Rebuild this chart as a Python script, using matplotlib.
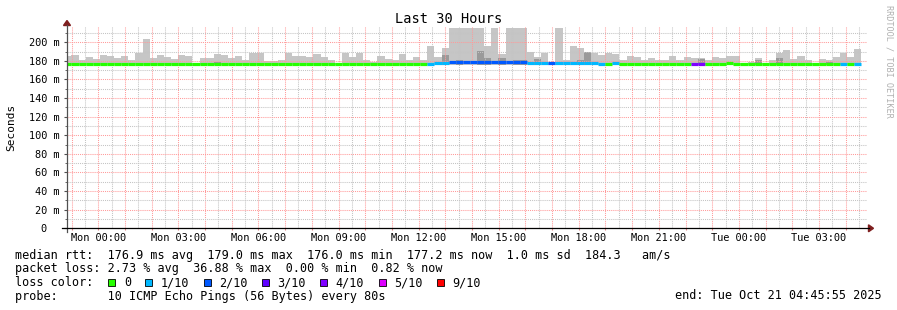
import numpy as np
import matplotlib.pyplot as plt
from matplotlib.patches import Rectangle, Polygon
from matplotlib.lines import Line2D
from matplotlib.ticker import MultipleLocator, FuncFormatter

W, H = 897, 310
plt.rcParams['font.family'] = ['DejaVu Sans Mono', 'DejaVu Sans']

# time in hours counted from Mon 00:00, window Sun 22:50 .. Tue 04:48
t_start, t_end = -1.173, 28.80
bin_start = -1.274          # first 16 min consolidation step
bin_hours = 16 / 60

# smoke (ms): top of the ping spread, darker core, median and loss bucket per step
smoke_low = 175.5
smoke_top = [185.5, 186, 180.5, 184, 181.7, 186, 185, 182.8, 185, 180.6,
             189, 203, 182.8, 186, 184, 181.7, 186, 185, 178, 182.8,
             182.8, 187, 186, 182.8, 185, 180.6, 188, 189, 179.6, 179.6,
             180.6, 188, 185, 185, 184, 187, 184, 180.6, 178, 188,
             184, 188, 180.6, 178.5, 185, 181.7, 180.6, 187, 180.6, 184,
             180.6, 195.7, 184, 193.5, 215, 215, 215, 215, 215, 195.7,
             215, 187, 215, 215, 215, 190, 184, 189, 178, 215,
             180.6, 195.7, 193.5, 190, 188, 186, 188, 187, 180.6, 185,
             184, 180.6, 182.8, 180.6, 180.6, 185, 180.6, 184, 182.8, 183.5,
             180.6, 184, 182.8, 185, 185, 178, 179, 182.8, 178, 180.6,
             188, 191.4, 181.7, 185, 180.6, 178, 181.7, 180.6, 184, 189,
             184, 192.5]
smoke_dark = [0, 0, 0, 0, 0, 0, 0, 0, 0, 0,
              0, 0, 0, 0, 0, 0, 0, 0, 0, 0,
              0, 178.5, 0, 0, 0, 0, 0, 0, 0, 0,
              0, 0, 0, 0, 0, 0, 0, 0, 0, 0,
              0, 0, 0, 0, 0, 0, 0, 0, 0, 0,
              0, 0, 0, 186, 0, 181, 0, 0, 191, 182.8,
              0, 182.8, 0, 181, 181, 0, 182, 0, 0, 0,
              0, 0, 181, 190, 0, 0, 0, 0, 0, 0,
              0, 0, 0, 0, 0, 0, 0, 0, 0, 182.5,
              0, 0, 0, 0, 0, 0, 0, 181, 0, 0,
              182.8, 0, 0, 0, 0, 0, 0, 179.3, 0, 0,
              0, 0]
median = [176.3, 176.3, 176.3, 176.3, 176.3, 176.3, 176.3, 176.3, 176.3, 176.3,
          176.4, 176.4, 176.3, 176.3, 176.3, 176.3, 176.3, 176.3, 176.3, 176.3,
          176.3, 176.4, 176.3, 176.3, 176.3, 176.3, 176.3, 176.4, 176.3, 176.3,
          176.3, 176.3, 176.3, 176.3, 176.3, 176.3, 176.3, 176.3, 176.3, 176.3,
          176.3, 176.3, 176.3, 176.3, 176.3, 176.3, 176.3, 176.3, 176.3, 176.3,
          176.3, 177.0, 177.8, 177.8, 178.6, 178.7, 178.6, 178.7, 178.5, 178.6,
          178.6, 178.5, 178.6, 178.7, 178.6, 178.2, 177.5, 177.4, 177.6, 177.8,
          177.9, 177.8, 177.8, 177.9, 177.8, 177.0, 176.6, 177.2, 176.4, 176.4,
          176.4, 176.4, 176.4, 176.4, 176.4, 176.4, 176.4, 176.4, 176.3, 176.3,
          176.4, 176.4, 176.4, 177.2, 176.4, 176.4, 176.4, 176.4, 176.4, 176.4,
          176.4, 176.4, 176.4, 176.4, 176.4, 176.4, 176.4, 176.4, 176.4, 176.8,
          177.1, 176.8]
loss_idx = [0, 0, 0, 0, 0, 0, 0, 0, 0, 0,
            0, 0, 0, 0, 0, 0, 0, 0, 0, 0,
            0, 0, 0, 0, 0, 0, 0, 0, 0, 0,
            0, 0, 0, 0, 0, 0, 0, 0, 0, 0,
            0, 0, 0, 0, 0, 0, 0, 0, 0, 0,
            0, 1, 1, 1, 2, 2, 2, 2, 2, 2,
            2, 2, 2, 2, 2, 1, 1, 1, 2, 1,
            1, 1, 1, 1, 1, 1, 0, 1, 0, 0,
            0, 0, 0, 0, 0, 0, 0, 0, 4, 4,
            0, 0, 0, 0, 0, 0, 0, 0, 0, 0,
            0, 0, 0, 0, 0, 0, 0, 0, 0, 1,
            0, 1]

loss_labels = ['0', '1/10', '2/10', '3/10', '4/10', '5/10', '9/10']
loss_colors = ['#26ff00', '#00b8ff', '#0059ff', '#5e00ff', '#7e00ff', '#dd00ff', '#ff0000']

stats_rtt = 'median rtt:  176.9 ms avg  179.0 ms max  176.0 ms min  177.2 ms now  1.0 ms sd  184.3   am/s'
stats_loss = 'packet loss: 2.73 % avg  36.88 % max  0.00 % min  0.82 % now'
probe_txt = 'probe:       10 ICMP Echo Pings (56 Bytes) every 80s'
end_txt = 'end: Tue Oct 21 04:45:55 2025'


def fx(x):
    return x / W


def fy(y):
    return 1 - y / H


fig = plt.figure(figsize=(W / 100, H / 100), dpi=100)
fig.patch.set_facecolor('white')
ax = fig.add_axes([fx(67), fy(228.3), 800 / W, (228.3 - 26) / H])

n = len(smoke_top)
left = bin_start + bin_hours * np.arange(n)
top = np.array(smoke_top)
dark = np.array(smoke_dark)

ax.bar(left, top - smoke_low, bottom=smoke_low, width=bin_hours, align='edge',
       color='#c6c6c6', linewidth=0, zorder=1)
m = dark > 0
ax.bar(left[m], dark[m] - smoke_low, bottom=smoke_low, width=bin_hours, align='edge',
       color='#9a9a9a', linewidth=0, zorder=1.1)
ax.hlines(median, left, left + bin_hours, colors=[loss_colors[i] for i in loss_idx],
          linewidth=2.3, zorder=3)

ax.set_xlim(t_start, t_end)
ax.set_ylim(0, 217.5)
ax.set_axisbelow(False)

ax.xaxis.set_major_locator(MultipleLocator(1))
ax.xaxis.set_minor_locator(MultipleLocator(0.5))
ax.yaxis.set_major_locator(MultipleLocator(20))
ax.yaxis.set_minor_locator(MultipleLocator(10))


def xfmt(v, pos):
    h = int(round(v))
    if h % 3:
        return ''
    day = 'Mon' if h < 24 else 'Tue'
    return f'{day} {h % 24:02d}:00'


def yfmt(v, pos):
    return '0  ' if v == 0 else f'{int(v)} m'


ax.xaxis.set_major_formatter(FuncFormatter(xfmt))
ax.yaxis.set_major_formatter(FuncFormatter(yfmt))

ax.grid(which='major', color='#ff9a9a', linestyle=(0, (1, 1)), linewidth=0.75)
ax.grid(which='minor', color='#c4c4c4', linestyle=(0, (1, 1)), linewidth=0.75)

ax.tick_params(axis='x', which='major', length=1.5, color='#e08080', pad=2,
               labelsize=7.4, labelcolor='black')
ax.tick_params(axis='x', which='minor', length=0)
ax.tick_params(axis='y', which='major', length=2.2, color='#505050', pad=3.2,
               labelsize=7.4, labelcolor='black')
ax.tick_params(axis='y', which='minor', length=1.2, color='#505050')
for s in ax.spines.values():
    s.set_visible(False)

# axis lines with rrdtool arrows
fig.add_artist(Line2D([fx(67), fx(67)], [fy(232), fy(25)], color='#505050', lw=0.9))
fig.add_artist(Line2D([fx(62), fx(869)], [fy(228.3), fy(228.3)], color='black', lw=0.9))
fig.add_artist(Polygon([(fx(67), fy(20.5)), (fx(63.5), fy(25.5)), (fx(70.5), fy(25.5))],
                       closed=True, color='#7f1f1f', transform=fig.transFigure))
fig.add_artist(Polygon([(fx(873.5), fy(228.3)), (fx(868.5), fy(224.8)), (fx(868.5), fy(231.8))],
                       closed=True, color='#7f1f1f', transform=fig.transFigure))

fig.text(fx(448.5), fy(19), 'Last 30 Hours', ha='center', va='center', fontsize=9.8)
fig.text(fx(11), fy(127), 'Seconds', ha='center', va='center', rotation=90, fontsize=8)
fig.text(fx(889), fy(61), 'RRDTOOL / TOBI OETIKER', ha='center', va='center',
         rotation=270, fontsize=6.1, color='#b0b0b0')

fs = 8.5
fig.text(fx(15), fy(255), stats_rtt, va='center', fontsize=fs)
fig.text(fx(15), fy(268.5), stats_loss, va='center', fontsize=fs)
fig.text(fx(15), fy(282.5), 'loss color:', va='center', fontsize=fs)
fig.text(fx(15), fy(296.5), probe_txt, va='center', fontsize=fs)
fig.text(fx(882), fy(295.5), end_txt, ha='right', va='center', fontsize=fs)

cw = 7.13
bx = 108.3
for lab, col in zip(loss_labels, loss_colors):
    fig.add_artist(Rectangle((fx(bx), fy(285.5)), 7 / W, 7 / H, facecolor=col,
                             edgecolor='black', linewidth=0.6, transform=fig.transFigure))
    fig.text(fx(bx + 15.5), fy(282.5), lab, va='center', fontsize=fs)
    bx = bx + 15.5 + len(lab) * cw + 14.3

fig.savefig('out.png', dpi=100)
